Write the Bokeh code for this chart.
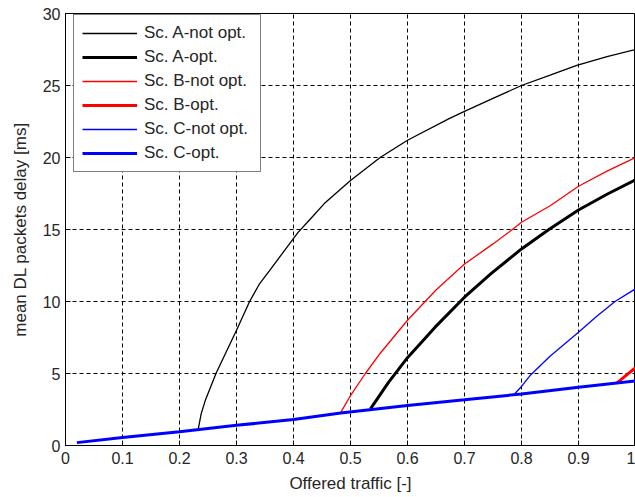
from bokeh.plotting import figure
from bokeh.models import Legend, LegendItem, FixedTicker, Range1d
from bokeh.embed import file_html
from bokeh.resources import INLINE

# Data
a_not_x = [0.233, 0.238, 0.245, 0.264, 0.30, 0.323, 0.34, 0.358, 0.408, 0.43, 0.454, 0.50, 0.552, 0.60, 0.673, 0.70, 0.75, 0.80, 0.849, 0.897, 0.95, 1.00]
a_not_y = [1.16, 2.2, 3.1, 5.0, 8.0, 10.0, 11.2, 12.15, 14.8, 15.75, 16.8, 18.4, 20.0, 21.2, 22.7, 23.2, 24.1, 25.0, 25.7, 26.4, 27.0, 27.5]

a_opt_x = [0.535, 0.567, 0.60, 0.648, 0.70, 0.747, 0.80, 0.848, 0.90, 0.95, 1.00]
a_opt_y = [2.55, 4.4, 6.1, 8.2, 10.3, 11.95, 13.65, 15.0, 16.35, 17.45, 18.45]

b_not_x = [0.483, 0.50, 0.526, 0.55, 0.60, 0.631, 0.65, 0.70, 0.75, 0.784, 0.80, 0.851, 0.90, 0.95, 1.00]
b_not_y = [2.3, 3.47, 5.0, 6.3, 8.7, 10.0, 10.8, 12.6, 14.0, 15.0, 15.5, 16.67, 18.0, 19.05, 20.0]

b_opt_x = [0.967, 0.983, 1.00]
b_opt_y = [4.33, 4.85, 5.4]

c_not_x = [0.788, 0.80, 0.816, 0.85, 0.90, 0.93, 0.964, 1.00]
c_not_y = [3.59, 4.1, 4.9, 6.2, 7.87, 8.9, 10.0, 10.88]

c_opt_x = [0.02, 0.10, 0.20, 0.30, 0.40, 0.483, 0.60, 0.70, 0.80, 0.90, 1.00]
c_opt_y = [0.2, 0.55, 0.95, 1.4, 1.8, 2.25, 2.78, 3.17, 3.58, 4.05, 4.49]

x_ticks = [0, 0.1, 0.2, 0.3, 0.4, 0.5, 0.6, 0.7, 0.8, 0.9, 1.0]
x_tick_labels = ["0", "0.1", "0.2", "0.3", "0.4", "0.5", "0.6", "0.7", "0.8", "0.9", "1"]
y_ticks = [0, 5, 10, 15, 20, 25, 30]

labels = ["Sc. A-not opt.", "Sc. A-opt.", "Sc. B-not opt.", "Sc. B-opt.", "Sc. C-not opt.", "Sc. C-opt."]

FONT = "Liberation Sans"
TXT = "#262626"

p = figure(frame_width=570, frame_height=432, output_backend="svg", toolbar_location=None,
           x_range=Range1d(0, 1), y_range=Range1d(0, 30),
           min_border_left=65, min_border_right=0, min_border_top=13, min_border_bottom=52)
p.background_fill_color = "white"
p.border_fill_color = "white"
p.outline_line_color = "black"
p.outline_line_width = 1

THIN = 1.3
THICK = 3
r1 = p.line(a_not_x, a_not_y, line_color="black", line_width=THIN)
r2 = p.line(a_opt_x, a_opt_y, line_color="black", line_width=THICK)
r3 = p.line(b_not_x, b_not_y, line_color="#ff0000", line_width=THIN)
r4 = p.line(b_opt_x, b_opt_y, line_color="#ff0000", line_width=THICK)
r5 = p.line(c_not_x, c_not_y, line_color="#0000ff", line_width=THIN)
r6 = p.line(c_opt_x, c_opt_y, line_color="#0000ff", line_width=THICK)

for g in (p.xgrid, p.ygrid):
    g.grid_line_color = "black"
    g.grid_line_dash = "4 3"
    g.grid_line_width = 1
    g.grid_line_alpha = 1.0

p.xaxis.ticker = FixedTicker(ticks=x_ticks)
p.xaxis.major_label_overrides = {t: l for t, l in zip(x_ticks, x_tick_labels)}
p.yaxis.ticker = FixedTicker(ticks=y_ticks)

for ax in (p.xaxis, p.yaxis):
    ax.major_tick_in = 5
    ax.major_tick_out = 0
    ax.minor_tick_in = 0
    ax.minor_tick_out = 0
    ax.axis_line_color = "black"
    ax.major_tick_line_color = "black"
    ax.major_label_text_font = FONT
    ax.major_label_text_font_size = "16px"
    ax.major_label_text_color = TXT
    ax.axis_label_text_font = FONT
    ax.axis_label_text_font_size = "17px"
    ax.axis_label_text_font_style = "normal"
    ax.axis_label_text_color = TXT

p.xaxis.axis_label = "Offered traffic [-]"
p.yaxis.axis_label = "mean DL packets delay [ms]"
p.xaxis.major_label_standoff = 6
p.yaxis.major_label_standoff = 5
p.xaxis.axis_label_standoff = 7
p.yaxis.axis_label_standoff = 10

items = [LegendItem(label=l, renderers=[r]) for l, r in zip(labels, [r1, r2, r3, r4, r5, r6])]
legend = Legend(items=items, location=(8, 273))
legend.margin = 0
legend.padding = 8
legend.spacing = 4
legend.label_height = 20
legend.label_width = 108
legend.glyph_height = 20
legend.glyph_width = 55
legend.label_standoff = 7
legend.label_text_font = FONT
legend.label_text_font_size = "17px"
legend.label_text_color = TXT
legend.border_line_color = "black"
legend.border_line_width = 1
legend.background_fill_color = "white"
legend.background_fill_alpha = 1.0
p.add_layout(legend)

open("out.html", "w").write(file_html(p, INLINE))
